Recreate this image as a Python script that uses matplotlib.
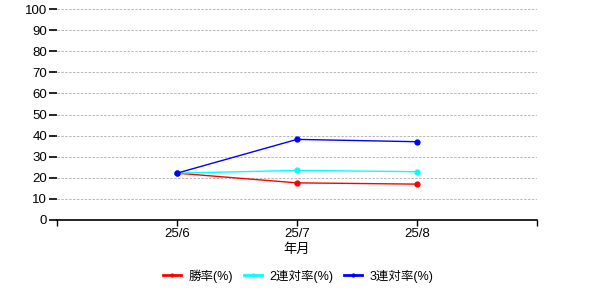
import matplotlib.pyplot as plt
from matplotlib.lines import Line2D

plt.rcParams['font.family'] = ['Liberation Sans', 'Noto Sans CJK JP', 'DejaVu Sans']

months = ['25/6', '25/7', '25/8']
win_rate = [22.2, 17.6, 17.0]
quinella_rate = [22.2, 23.5, 22.9]
show_rate = [22.2, 38.2, 37.1]

series = [
    ('勝率(%)', win_rate, '#ff0000'),
    ('2連対率(%)', quinella_rate, '#00ffff'),
    ('3連対率(%)', show_rate, '#0000ff'),
]

fig = plt.figure(figsize=(6, 3), dpi=100)
ax = fig.add_axes([57 / 600, 80 / 300, 480 / 600, 211 / 300])

x = list(range(1, len(months) + 1))
handles = []
for label, vals, color in series:
    ax.plot(x, vals, color=color, linewidth=1, marker='o', markersize=3.5)
    handles.append(Line2D([], [], color=color, linewidth=2, marker='o', markersize=2, label=label))

ax.set_xlim(0, len(months) + 1)
ax.set_ylim(0, 100)
ax.set_yticks(range(0, 101, 10))
ax.set_xticks(range(0, len(months) + 2))
ax.set_xticklabels([''] + months + [''])

ax.grid(axis='y', color='#b8b8b8', linestyle=(0, (2.5, 1.5)), linewidth=0.7)
ax.set_axisbelow(True)
for side in ['top', 'right', 'left']:
    ax.spines[side].set_visible(False)
ax.spines['bottom'].set_linewidth(1.2)
ax.tick_params(axis='y', length=6, width=1.2, labelsize=9.5, pad=1)
ax.tick_params(axis='x', length=4, width=1, labelsize=9.5, pad=2)

ax.set_xlabel('年月', fontsize=9.5, labelpad=2)

fig.legend(handles=handles, loc='center', bbox_to_anchor=(0.497, 1 - 276 / 300), ncol=3, frameon=False,
           fontsize=9, handlelength=1.4, handletextpad=0.6, columnspacing=0.9)

fig.savefig('out.png', dpi=100)
